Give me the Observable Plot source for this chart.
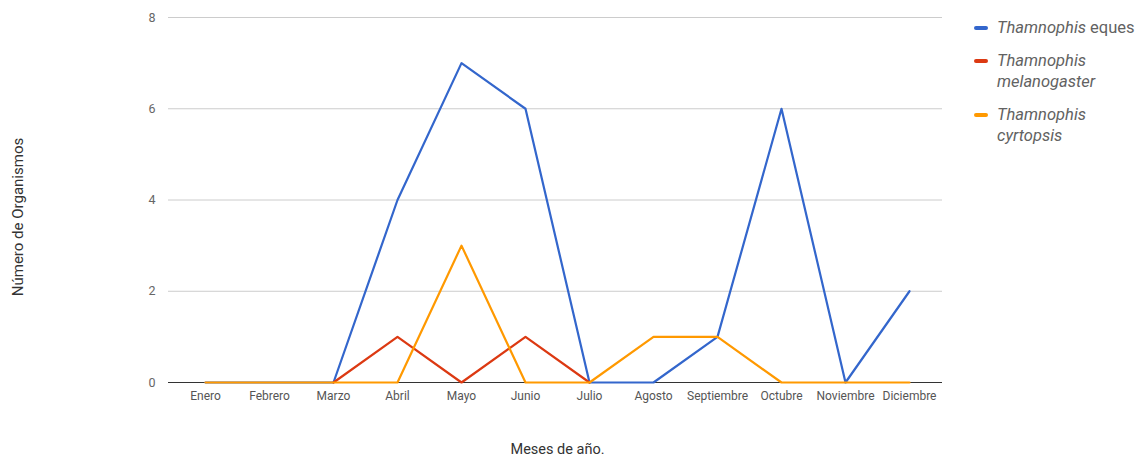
<!DOCTYPE html>
<html>
<head>
<meta charset="utf-8">
<script src="https://cdn.jsdelivr.net/npm/d3@7"></script>
<script src="https://cdn.jsdelivr.net/npm/@observablehq/plot@0.6"></script>
<style>
  body { margin: 0; background: #fff; font-family: Roboto, "Noto Sans", sans-serif; }
  #wrap { position: relative; width: 1147px; height: 461px; }
  #legend { position: absolute; left: 971px; top: 17px; font-size: 16.5px; color: #626262; }
  .item { position: relative; padding-left: 26px; line-height: 21px; margin-bottom: 12px; }
  .item i { font-style: italic; }
  .sw { position: absolute; left: 3px; top: 9px; width: 14px; height: 4px; border-radius: 2px; }
</style>
</head>
<body>
<div id="wrap"><div id="legend"></div></div>
<script>
const months = ["Enero", "Febrero", "Marzo", "Abril", "Mayo", "Junio", "Julio", "Agosto", "Septiembre", "Octubre", "Noviembre", "Diciembre"];
const species = ["Thamnophis eques", "Thamnophis melanogaster", "Thamnophis cyrtopsis"];
// legend lines: [text, italic?] pieces per line
const legendLines = [
  [[["Thamnophis", true], [" eques", false]]],
  [[["Thamnophis", true]], [["melanogaster", true]]],
  [[["Thamnophis", true]], [["cyrtopsis", true]]]
];
const colors = ["#3366cc", "#dc3912", "#ff9900"];
const eques = [0, 0, 0, 4, 7, 6, 0, 0, 1, 6, 0, 2];
const melanogaster = [null, null, 0, 1, 0, 1, 0, null, null, null, null, null];
const cyrtopsis = [0, 0, 0, 0, 3, 0, 0, 1, 1, 0, 0, 0];
const yTicks = [0, 2, 4, 6, 8];
const xTitle = "Meses de año.";
const yTitle = "Número de Organismos";

const series = [eques, melanogaster, cyrtopsis];
const rows = species.flatMap((s, i) => months.map((m, j) => ({species: s, month: m, value: series[i][j]})));

const chart = Plot.plot({
  width: 960,
  height: 461,
  marginLeft: 172,
  marginRight: 18,
  marginTop: 17,
  marginBottom: 79,
  style: {fontFamily: "Roboto, sans-serif", fontSize: "12px", color: "#555", background: "#fff"},
  x: {type: "point", domain: months, padding: 0.5, label: null},
  y: {domain: [0, 8], ticks: yTicks, label: null},
  color: {domain: species, range: colors},
  marks: [
    Plot.ruleY(yTicks.filter(d => d !== 0), {stroke: "#cccccc", strokeWidth: 1, insetLeft: -4}),
    Plot.ruleY([0], {stroke: "#333", strokeWidth: 1, insetLeft: -4}),
    Plot.axisX({tickSize: 0, tickPadding: 9, fontSize: 12, fill: "#555"}),
    Plot.axisY({ticks: yTicks, tickSize: 0, tickPadding: 17, fontSize: 12.5, fill: "#666"}),
    Plot.line(rows, {x: "month", y: "value", z: "species", stroke: "species", strokeWidth: 2.2}),
    Plot.text([xTitle], {text: d => d, frameAnchor: "bottom", dy: 71, fontSize: 14.5, fill: "#333"}),
    Plot.text([yTitle], {text: d => d, frameAnchor: "left", textAnchor: "middle", rotate: -90, dx: -154, dy: 17, fontSize: 15, fill: "#333"})
  ]
});
document.getElementById("wrap").prepend(chart);

const legend = document.getElementById("legend");
legendLines.forEach((lines, i) => {
  const item = document.createElement("div");
  item.className = "item";
  const sw = document.createElement("span");
  sw.className = "sw";
  sw.style.background = colors[i];
  item.appendChild(sw);
  lines.forEach((pieces, k) => {
    if (k) item.appendChild(document.createElement("br"));
    pieces.forEach(([t, it]) => {
      if (it) {
        const el = document.createElement("i");
        el.textContent = t;
        item.appendChild(el);
      } else {
        item.appendChild(document.createTextNode(t));
      }
    });
  });
  legend.appendChild(item);
});
</script>
</body>
</html>
